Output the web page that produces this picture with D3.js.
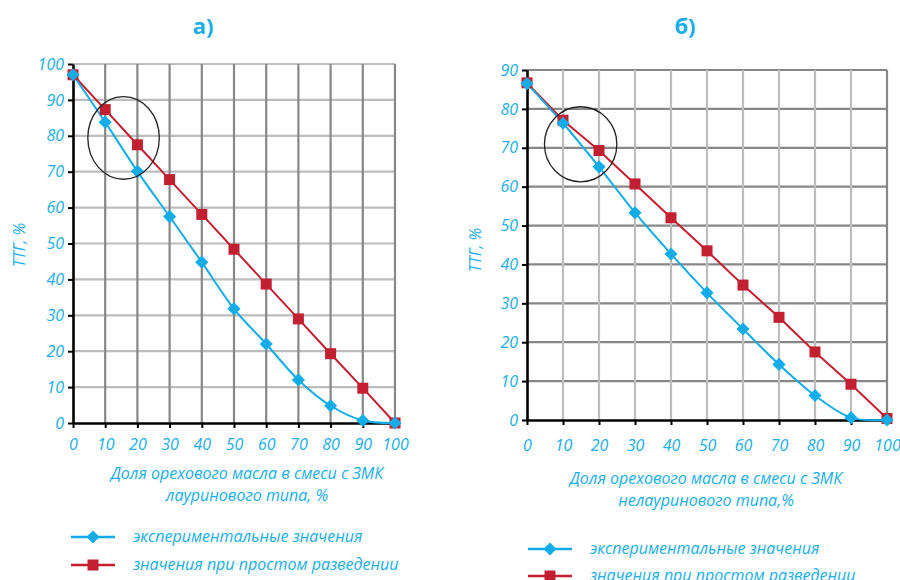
<!DOCTYPE html>
<html><head><meta charset="utf-8">
<script src="https://cdn.jsdelivr.net/npm/d3@7"></script>
<style>
body{margin:0;background:#fff;}
svg{display:block;font-family:"Open Sans",sans-serif;}
</style></head>
<body><svg id="c" width="900" height="580"></svg>
<script>
// ---- data ----
const xValues = [0,10,20,30,40,50,60,70,80,90,100];
const xTicks = [0,10,20,30,40,50,60,70,80,90,100];
const expA = [97, 83.8, 70.1, 57.5, 44.8, 31.8, 22.0, 12.0, 4.8, 0.7, 0];
const dilA = [97, 87.3, 77.5, 67.8, 58.1, 48.4, 38.7, 29.0, 19.3, 9.7, 0];
const expB = [86.5, 76.3, 65.1, 53.3, 42.7, 32.7, 23.4, 14.3, 6.3, 0.6, 0];
const dilB = [86.7, 77.1, 69.3, 60.7, 52.0, 43.5, 34.7, 26.4, 17.5, 9.2, 0.4];
const yTicksA = [0,10,20,30,40,50,60,70,80,90,100];
const yTicksB = [0,10,20,30,40,50,60,70,80,90];
const titles = ["а)", "б)"];
const xTitlesA = ["Доля орехового масла в смеси с ЗМК", "лауринового  типа, %"];
const xTitlesB = ["Доля орехового масла в смеси с ЗМК", "нелауринового  типа,%"];
const yTitle = "ТТГ, %";
const legendLabels = ["экспериментальные значения", "значения при простом разведении"];
// highlighted region (data units): cx, cy, rx, ry
const circleA = [15.7, 79.4, 11.1, 11.5];
const circleB = [14.9, 70.9, 10.05, 9.65];

const BLUE = "#12ace8", RED = "#c21f30", TXT = "#1aaee9";
const DARK = "#878787", LIGHT = "#bdbdbd";
const svg = d3.select("#c");

function chart(o){
  const x = d3.scaleLinear().domain([0,100]).range([o.x0,o.x1]);
  const y = d3.scaleLinear().domain([0,o.ymax]).range([o.y0,o.yTop]);
  const g = svg.append("g");
  // horizontal grid
  g.selectAll(".hg").data(o.yTicks.filter(d=>d>0)).join("line")
    .attr("x1",o.x0).attr("x2",o.x1).attr("y1",d=>y(d)).attr("y2",d=>y(d))
    .attr("stroke",o.hColor).attr("stroke-width",2.2);
  // vertical grid
  g.selectAll(".vg").data(xTicks.filter(d=>d>0)).join("line")
    .attr("x1",d=>x(d)).attr("x2",d=>x(d)).attr("y1",o.y0).attr("y2",o.yTop)
    .attr("stroke",d=>d===100?DARK:o.vColor).attr("stroke-width",2.2);
  // axes
  const xa = g.append("g").attr("transform",`translate(0,${o.y0})`)
    .call(d3.axisBottom(x).tickValues(xTicks).tickSize(5).tickSizeOuter(0).tickFormat(d3.format("d")));
  xa.select(".domain").attr("stroke","#000").attr("stroke-width",2.6);
  xa.selectAll(".tick line").attr("stroke","#000").attr("stroke-width",2);
  xa.selectAll(".tick text").attr("fill",TXT).attr("font-size",16).attr("font-style","italic")
    .attr("font-family","'Open Sans',sans-serif").attr("dy",o.xLabDy);
  const ya = g.append("g").attr("transform",`translate(${o.x0},0)`)
    .call(d3.axisLeft(y).tickValues(o.yTicks).tickSize(5).tickSizeOuter(0).tickFormat(d3.format("d")));
  ya.select(".domain").attr("stroke","#000").attr("stroke-width",2.6);
  ya.selectAll(".tick line").attr("stroke","#000").attr("stroke-width",2);
  ya.selectAll(".tick text").attr("fill",TXT).attr("font-size",16).attr("font-style","italic")
    .attr("font-family","'Open Sans',sans-serif").attr("x",-9);
  // lines
  const pts = v => xValues.map((d,i)=>[d,v[i]]);
  g.append("path").datum(pts(o.dil))
    .attr("d",d3.line().x(d=>x(d[0])).y(d=>y(d[1])))
    .attr("fill","none").attr("stroke",RED).attr("stroke-width",2);
  g.append("path").datum(pts(o.exp))
    .attr("d",d3.line().x(d=>x(d[0])).y(d=>y(d[1])).curve(d3.curveCatmullRom.alpha(0.5)))
    .attr("fill","none").attr("stroke",BLUE).attr("stroke-width",2);
  // markers
  g.selectAll(".sq").data(pts(o.dil)).join("rect")
    .attr("x",d=>x(d[0])-5.5).attr("y",d=>y(d[1])-5.5).attr("width",11).attr("height",11)
    .attr("fill",RED);
  g.selectAll(".dm").data(pts(o.exp)).join("path")
    .attr("d",d3.symbol(d3.symbolDiamond2,110)())
    .attr("transform",d=>`translate(${x(d[0])},${y(d[1])})`).attr("fill",BLUE);
  // circle annotation
  const c = o.circle;
  g.append("ellipse").attr("cx",x(c[0])).attr("cy",y(c[1]))
    .attr("rx",x(c[2])-x(0)).attr("ry",y(0)-y(c[3]))
    .attr("fill","none").attr("stroke","#222").attr("stroke-width",1.3);
  // title
  g.append("text").attr("x",o.titleX).attr("y",34).attr("text-anchor","middle")
    .attr("fill",TXT).attr("font-weight","bold").attr("font-size",22)
    .attr("font-family","'Open Sans',sans-serif").text(o.title);
  // y title
  g.append("text").attr("transform",`translate(${o.yTitleX},${o.yTitleY}) rotate(-90)`)
    .attr("text-anchor","middle").attr("fill",TXT).attr("font-size",16).attr("font-style","italic")
    .text(yTitle);
  // x title
  o.xTitles.forEach((t,i)=>{
    g.append("text").attr("x",o.xTitleX).attr("y",o.xTitleY+i*22).attr("text-anchor","middle")
      .attr("fill",TXT).attr("font-size",16).attr("font-style","italic").text(t);
  });
  // legend
  legendLabels.forEach((t,i)=>{
    const ly = o.legY + i*o.legGap;
    g.append("line").attr("x1",o.legX).attr("x2",o.legX+44).attr("y1",ly).attr("y2",ly)
      .attr("stroke",i?RED:BLUE).attr("stroke-width",2.6);
    if(i) g.append("rect").attr("x",o.legX+22-5.5).attr("y",ly-5.5).attr("width",11).attr("height",11).attr("fill",RED);
    else g.append("path").attr("d",d3.symbol(d3.symbolDiamond2,110)()).attr("transform",`translate(${o.legX+22},${ly})`).attr("fill",BLUE);
    g.append("text").attr("x",o.legX+62).attr("y",ly+5).attr("fill",TXT).attr("font-size",16)
      .attr("font-style","italic").text(t);
  });
}

chart({x0:73,x1:395,y0:423,yTop:64,ymax:100,yTicks:yTicksA,exp:expA,dil:dilA,
  hColor:LIGHT,vColor:DARK,circle:circleA,title:titles[0],titleX:203,
  yTitleX:25,yTitleY:245,xTitles:xTitlesA,xTitleX:247,xTitleY:479,xLabDy:"1.2em",
  legX:71,legY:537,legGap:28});
chart({x0:527,x1:887,y0:420,yTop:70,ymax:90,yTicks:yTicksB,exp:expB,dil:dilB,
  hColor:DARK,vColor:LIGHT,circle:circleB,title:titles[1],titleX:685,
  yTitleX:481,yTitleY:250,xTitles:xTitlesB,xTitleX:706,xTitleY:484,xLabDy:"1.45em",
  legX:528,legY:549,legGap:27});
</script></body></html>
